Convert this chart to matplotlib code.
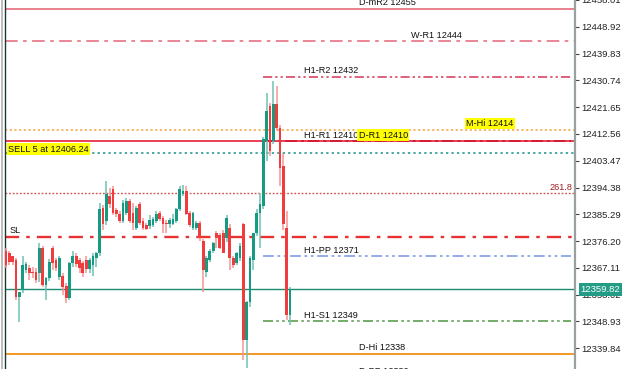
import matplotlib
matplotlib.use('Agg')
import numpy as np
import matplotlib.pyplot as plt

plt.rcParams['font.family'] = ['Liberation Sans', 'DejaVu Sans']

# candles (M1-ish)
opens = [12373.0, 12372.3, 12371.0, 12369.7, 12357.2, 12359.5, 12366.3, 12367.0, 12365.6, 12365.6,
         12365.3, 12374.0, 12361.2, 12363.6, 12374.0, 12369.7, 12363.9, 12364.3, 12360.9, 12356.8,
         12368.6, 12371.3, 12369.7, 12368.6, 12369.7, 12366.6, 12368.0, 12370.3, 12372.0, 12387.5,
         12383.1, 12391.6, 12394.0, 12386.9, 12385.5, 12383.1, 12385.8, 12389.9, 12385.8, 12380.8,
         12388.9, 12383.1, 12381.5, 12381.2, 12381.5, 12383.1, 12385.8, 12384.2, 12382.5, 12382.1,
         12382.1, 12383.1, 12387.2, 12392.3, 12393.3, 12385.8, 12380.8, 12380.8, 12382.5, 12376.4,
         12365.6, 12369.7, 12373.0, 12378.8, 12378.1, 12379.1, 12377.1, 12380.8, 12370.3, 12368.6,
         12370.3, 12382.1, 12342.6, 12355.5, 12369.7, 12378.8, 12385.8, 12388.2, 12410.2, 12422.0,
         12410.2, 12422.6, 12414.5, 12401.7, 12380.8, 12351.1]
highs = [12373.7, 12373.0, 12371.3, 12370.3, 12359.0, 12371.3, 12369.0, 12368.0, 12367.3, 12367.0,
         12375.4, 12374.7, 12364.0, 12370.0, 12374.7, 12370.5, 12371.0, 12365.5, 12362.0, 12369.0,
         12373.0, 12372.3, 12370.5, 12369.5, 12371.0, 12370.5, 12372.0, 12372.5, 12389.2, 12388.5,
         12396.7, 12394.3, 12395.0, 12387.5, 12386.5, 12390.0, 12390.9, 12390.5, 12389.2, 12388.0,
         12389.5, 12384.0, 12382.5, 12385.0, 12384.5, 12386.5, 12386.5, 12384.8, 12383.5, 12384.0,
         12385.5, 12387.5, 12395.0, 12395.3, 12395.0, 12386.5, 12386.0, 12383.0, 12383.1, 12377.0,
         12371.0, 12373.5, 12376.0, 12379.5, 12378.8, 12379.8, 12385.2, 12382.0, 12371.0, 12372.5,
         12375.7, 12382.5, 12356.0, 12371.0, 12379.0, 12387.2, 12392.6, 12411.5, 12426.4, 12423.0,
         12430.4, 12428.7, 12415.5, 12405.8, 12386.5, 12360.5]
lows = [12367.0, 12368.0, 12368.0, 12356.1, 12348.7, 12358.5, 12365.5, 12362.9, 12363.6, 12362.0,
        12362.2, 12360.5, 12356.1, 12362.5, 12366.3, 12366.0, 12362.9, 12357.8, 12355.1, 12356.1,
        12367.5, 12367.5, 12365.5, 12363.9, 12365.5, 12365.3, 12364.5, 12367.5, 12371.0, 12379.8,
        12381.5, 12387.5, 12385.0, 12384.5, 12382.5, 12382.5, 12385.0, 12382.5, 12379.8, 12380.0,
        12381.8, 12380.0, 12379.8, 12380.4, 12381.0, 12382.5, 12383.0, 12379.1, 12378.8, 12380.5,
        12381.5, 12382.5, 12386.5, 12391.5, 12385.0, 12381.0, 12380.0, 12380.0, 12376.4, 12358.9,
        12364.0, 12369.0, 12372.0, 12374.0, 12373.5, 12372.0, 12376.0, 12366.3, 12367.0, 12368.0,
        12369.5, 12335.9, 12333.0, 12354.0, 12366.3, 12378.0, 12374.0, 12387.0, 12403.4, 12405.0,
        12409.0, 12413.5, 12395.0, 12380.0, 12349.5, 12347.7]
closes = [12368.0, 12369.0, 12369.0, 12357.2, 12358.9, 12368.0, 12368.3, 12365.3, 12365.3, 12362.9,
          12374.0, 12361.2, 12363.6, 12369.0, 12368.6, 12367.0, 12370.3, 12360.5, 12356.8, 12368.6,
          12371.3, 12368.3, 12367.0, 12365.3, 12366.6, 12369.7, 12371.3, 12372.0, 12387.2, 12382.1,
          12392.3, 12388.9, 12385.8, 12385.5, 12383.1, 12389.2, 12389.9, 12383.1, 12382.5, 12387.5,
          12382.5, 12380.8, 12380.4, 12383.5, 12383.8, 12385.5, 12383.8, 12382.1, 12382.1, 12383.5,
          12383.8, 12387.2, 12394.0, 12393.3, 12385.5, 12381.5, 12385.8, 12382.5, 12377.1, 12366.3,
          12370.3, 12373.0, 12375.4, 12377.4, 12374.0, 12372.3, 12384.2, 12370.3, 12368.0, 12372.0,
          12374.7, 12342.6, 12355.5, 12370.3, 12378.8, 12385.8, 12388.9, 12410.8, 12420.3, 12406.8,
          12422.6, 12414.5, 12401.0, 12382.1, 12351.1, 12359.82]

# price axis ticks
yticks = [12339.84, 12348.93, 12358.02, 12367.11, 12376.20, 12385.29, 12394.38,
          12403.47, 12412.56, 12421.65, 12430.74, 12439.83, 12448.92, 12458.01]

last_price = 12359.82
sell_price = 12406.24
fibo_price = 12392.6
sl_price = 12377.7

# level name, price
d_levels = [('D-mR2', 12455), ('D-R1', 12410), ('D-Hi', 12338), ('D-PP', 12330)]
w_levels = [('W-R1', 12444)]
m_levels = [('M-Hi', 12414)]
h1_levels = [('H1-R2', 12432), ('H1-R1', 12410), ('H1-PP', 12371), ('H1-S1', 12349)]

bull = '#179a82'
bear = '#f03c3c'
bull_w = '#6fc2b3'
bear_w = '#f39494'

fig = plt.figure(figsize=(6.25, 3.69), dpi=100)
ax = fig.add_axes([5/625, 0, 570/625, 1])

x = np.arange(len(opens))
o = np.array(opens); c = np.array(closes)
up = c >= o
cols = np.where(up, bull, bear)
wcols = np.where(up, bull_w, bear_w)
ax.vlines(x, lows, highs, colors=wcols, lw=1.1, zorder=3)
body_lo = np.minimum(o, c)
body_h = np.maximum(np.abs(c - o), 0.4)
ax.bar(x, body_h, bottom=body_lo, width=0.82, color=cols, lw=0, zorder=4)

x0, x1 = -0.3, 170.3
ax.set_xlim(x0, x1)
ax.set_ylim(12332.8, 12457.4)
h1_start = 76.9
dd = (0, (6, 2, 1.5, 2, 1.5, 2))
d1 = (0, (6, 2, 1.5, 2))

# level lines
ax.axhline(d_levels[0][1], color='#e8808c', lw=1.4, zorder=2)
ax.axhline(w_levels[0][1], color='#e87c8c', lw=1.3, ls=(0, (7, 3, 2, 3)), zorder=2)
ax.hlines(h1_levels[0][1], h1_start, x1 - 1.2, color='#d43656', lw=1.1, linestyles=[dd], zorder=2)
ax.axhline(m_levels[0][1], color='#f6b05c', lw=1.3, ls=(0, (1.2, 1.4)), zorder=2)
ax.axhline(d_levels[1][1], color='#e4203c', lw=1.2, zorder=2)
ax.hlines(h1_levels[1][1], h1_start, x1 - 1.2, color='#d41c34', lw=1.4, linestyles=[d1], zorder=2)
ax.axhline(sell_price, color='#4aaaa2', lw=1.4, ls=(0, (1.2, 1.6)), zorder=2)
ax.axhline(fibo_price, color='#d45454', lw=1.0, ls=(0, (1.3, 1.3)), zorder=2)
ax.axhline(sl_price, color='#e83232', lw=1.7, ls=(0, (6, 3, 1.5, 3)), zorder=2)
ax.hlines(h1_levels[2][1], h1_start, x1 - 1.2, color='#8ca4ec', lw=1.3, linestyles=[dd], zorder=2)
ax.axhline(last_price, color='#1d8a72', lw=1.0, zorder=2)
ax.hlines(h1_levels[3][1], h1_start, x1 - 1.2, color='#5c9e50', lw=1.2, linestyles=[dd], zorder=2)
ax.axhline(d_levels[2][1], color='#f28500', lw=1.2, zorder=2)

fs = 6.6
def label(xpos, price, s, bg=None, va='bottom', dy=1.2, **kw):
    bbox = dict(facecolor=bg, edgecolor='none', pad=1.0) if bg else None
    ax.annotate(s, (xpos, price), xytext=(0, dy), textcoords='offset points',
                ha='left', va=va, fontsize=fs, color='#111111', bbox=bbox, zorder=6,
                annotation_clip=False, **kw)

for name, p in h1_levels:
    label(89.2, p, f'{name} {p}')
for name, p in d_levels:
    label(105.6, p, f'{name} {p}', bg='#ffff00' if name == 'D-R1' else None)
label(121.3, w_levels[0][1], f'{w_levels[0][0]} {w_levels[0][1]}')
label(137.7, m_levels[0][1], f'{m_levels[0][0]} {m_levels[0][1]}', bg='#ffff00')
label(0.6, sell_price, f'SELL 5 at {sell_price:.2f}', bg='#ffff00', va='center', dy=2.5)
label(1.2, sl_price, 'SL')
ax.annotate('261.8', (x1 - 0.8, fibo_price), xytext=(0, 0.8), textcoords='offset points',
            ha='right', va='bottom', fontsize=fs, color='#a02020', zorder=6)

# current price tag
ax.annotate(f'{last_price:.2f}', (1.0, last_price), xycoords=('axes fraction', 'data'),
            xytext=(4, 0), textcoords='offset points', ha='left', va='center',
            fontsize=6.8, color='white', annotation_clip=False, zorder=10,
            bbox=dict(facecolor='#239c86', edgecolor='none', pad=1.3))

# axes styling
ax.yaxis.tick_right()
ax.set_yticks(yticks)
ax.set_yticklabels([f'{t:.2f}' for t in yticks], fontsize=6.8, color='#222222')
ax.tick_params(axis='y', length=3, width=0.8, color='#444444', pad=1.5)
ax.set_xticks([])
for s in ['top', 'bottom']:
    ax.spines[s].set_visible(False)
ax.spines['right'].set_color('#9aa0a0')
ax.spines['right'].set_linewidth(1.6)
ax.spines['left'].set_color('#1c3636')
ax.spines['left'].set_linewidth(1.0)
fig.add_artist(plt.Line2D([2/625, 2/625], [0, 1], color='#b0b0b0', lw=1.2))

fig.savefig('out.png', dpi=100)
